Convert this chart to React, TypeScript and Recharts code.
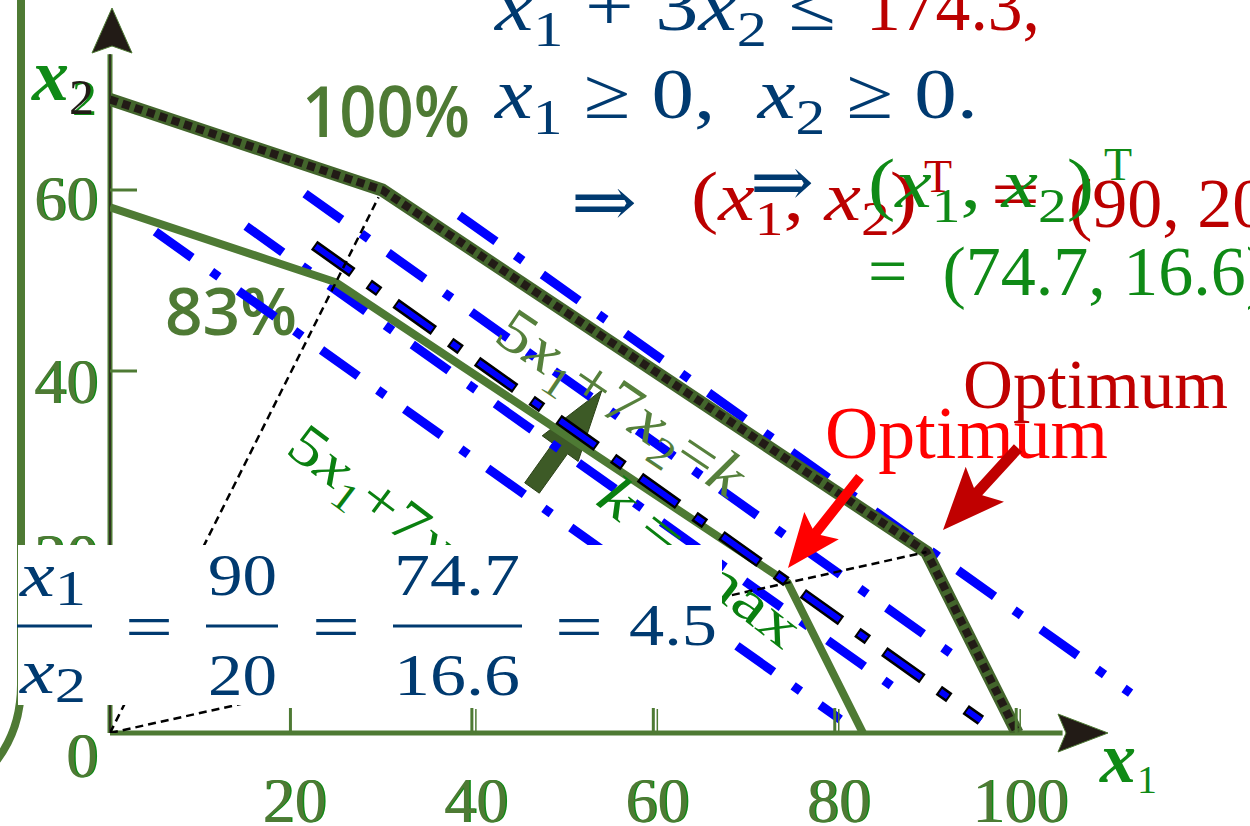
import React from 'react'
import { ComposedChart, Line, XAxis, YAxis, ReferenceLine } from 'recharts'

const xTicks = [20, 40, 60, 80, 100]
const yTicks = [0, 20, 40, 60]

// feasible region boundaries
const full = [
  { x: 0, y: 70 },
  { x: 30, y: 60 },
  { x: 90, y: 20 },
  { x: 100, y: 0 },
]
const reduced = [
  { x: 0, y: 58.1 },
  { x: 24.9, y: 49.8 },
  { x: 74.7, y: 16.6 },
  { x: 83, y: 0 },
]

// iso lines 5x1 + 7x2 = k (end points)
const iso1 = [{ x: 5, y: 55.4 }, { x: 80.5, y: 1.5 }]
const iso2 = [{ x: 15, y: 56.0 }, { x: 88, y: 3.9 }]
const iso3 = [{ x: 21.5, y: 59.6 }, { x: 94.5, y: 7.5 }]
const iso5 = [{ x: 38.5, y: 57.2 }, { x: 112.5, y: 4.4 }]
const isoOpt = [{ x: 22.5, y: 53.9 }, { x: 96, y: 1.4 }]

// rays from the origin
const rayA = [{ x: 0, y: 0 }, { x: 29.6, y: 59.2 }]
const rayB = [{ x: 0, y: 0 }, { x: 90, y: 20 }]

const OLIVE = '#4e7a34'
const GREEN = '#0f8a16'
const BLUE_T = '#003a70'
const RED_D = '#bb0000'
const RED = '#ff0000'
const SERIF = '"Liberation Serif", "DejaVu Serif", serif'

type Part = [string, string?]

function MathText({ x, y, size, fill, parts, len, rotate, subScale = 0.7, subShift = 0.22 }: any) {
  let cur = 0
  const kids = parts.map((p: Part, i: number) => {
    const [t, k = 'n'] = p
    const small = k === 'sub' || k === 'sup'
    const target = k === 'sub' ? size * subShift : k === 'sup' ? -size * 0.42 : 0
    const dy = target - cur
    cur = target
    return (
      <tspan key={i} dy={dy} fontSize={small ? size * subScale : size} fontStyle={k === 'i' ? 'italic' : 'normal'}>
        {t}
      </tspan>
    )
  })
  return (
    <text
      x={x}
      y={y}
      fill={fill}
      fontSize={size}
      fontFamily={SERIF}
      textLength={len}
      lengthAdjust={len ? 'spacingAndGlyphs' : undefined}
      transform={rotate ? `rotate(${rotate} ${x} ${y})` : undefined}
      style={{ whiteSpace: 'pre', fontFamily: SERIF }}
    >
      {kids}
    </text>
  )
}

function arrow(tx: number, ty: number, hx: number, hy: number, headLen: number, headHalf: number, shaftHalf: number, barb = 0) {
  const dx = hx - tx
  const dy = hy - ty
  const L = Math.hypot(dx, dy)
  const ux = dx / L
  const uy = dy / L
  const nx = -uy
  const ny = ux
  const bx = hx - ux * headLen
  const by = hy - uy * headLen
  const cx = bx - ux * barb
  const cy = by - uy * barb
  const pts = [
    [tx + nx * shaftHalf, ty + ny * shaftHalf],
    [bx + nx * shaftHalf, by + ny * shaftHalf],
    [cx + nx * headHalf, cy + ny * headHalf],
    [hx, hy],
    [cx - nx * headHalf, cy - ny * headHalf],
    [bx - nx * shaftHalf, by - ny * shaftHalf],
    [tx - nx * shaftHalf, ty - ny * shaftHalf],
  ]
  return pts.map((p) => p.map((v) => v.toFixed(1)).join(',')).join(' ')
}

const XTick = (props: any) => {
  const { x, y, payload } = props
  const v = payload.value
  return (
    <g>
      <line x1={x - 1} x2={x - 1} y1={y} y2={y - 25} stroke={OLIVE} strokeWidth={3} />
      {v !== 20 && <line x1={x + 3} x2={x + 3} y1={y} y2={y - 24} stroke={OLIVE} strokeWidth={1.5} />}
      <text x={x + 4.5} y={y + 89} textAnchor="middle" fontSize={64} style={{ fontFamily: SERIF }} fill={GREEN}>
        {v}
      </text>
      <text x={x + 3} y={y + 89} textAnchor="middle" fontSize={64} style={{ fontFamily: SERIF }} fill={OLIVE}>
        {v}
      </text>
    </g>
  )
}

const yLabelDrop: Record<number, number> = { 0: 44, 20: 26, 40: 32, 60: 30 }

const YTick = (props: any) => {
  const { x, y, payload } = props
  const v = payload.value
  return (
    <g>
      {v !== 0 && <line x1={x} x2={x + 27} y1={y} y2={y} stroke={OLIVE} strokeWidth={3} />}
      <text x={x - 10.5} y={y + yLabelDrop[v]} textAnchor="end" fontSize={64} style={{ fontFamily: SERIF }} fill={GREEN}>
        {v}
      </text>
      <text x={x - 12} y={y + yLabelDrop[v]} textAnchor="end" fontSize={64} style={{ fontFamily: SERIF }} fill={OLIVE}>
        {v}
      </text>
    </g>
  )
}

const layer: React.CSSProperties = { position: 'absolute', left: 0, top: 0 }

export default function App() {
  return (
    <div style={{ position: 'absolute', left: 0, top: 0, width: 1250, height: 826, overflow: 'hidden', background: '#fff' }}>
      {/* under layer */}
      <svg width={1250} height={826} style={layer}>
        <text x={302} y={137} style={{ fontFamily: '"Open Sans", sans-serif' }} fontWeight={600} fontSize={70} fill={OLIVE} textLength={168} lengthAdjust="spacingAndGlyphs">
          100%
        </text>
        <text x={165} y={335} style={{ fontFamily: '"Open Sans", sans-serif' }} fontWeight={600} fontSize={66} fill={OLIVE} textLength={132} lengthAdjust="spacingAndGlyphs">
          83%
        </text>
        <polygon points={arrow(532, 488, 602, 390, 72, 22, 9)} fill="#3d5a26" stroke="#2c4218" strokeWidth={1} />
      </svg>

      <div style={layer}>
        <ComposedChart width={1250} height={826} margin={{ top: 9, right: 6, left: 109, bottom: 92 }}>
          <XAxis
            type="number"
            dataKey="x"
            domain={[0, 125]}
            ticks={xTicks}
            interval={0}
            allowDataOverflow
            axisLine={false}
            tickLine={false}
            tickSize={0}
            tickMargin={0}
            height={1}
            tick={(p: any) => <XTick {...p} />}
          />
          <YAxis
            type="number"
            domain={[0, 80]}
            ticks={yTicks}
            interval={0}
            allowDataOverflow
            axisLine={false}
            tickLine={false}
            tickSize={0}
            tickMargin={0}
            width={1}
            tick={(p: any) => <YTick {...p} />}
          />
          <ReferenceLine segment={[{ x: 0, y: 0 }, { x: 105, y: 0 }]} stroke={OLIVE} strokeWidth={5} ifOverflow="visible" />
          <ReferenceLine segment={[{ x: 0, y: 0 }, { x: 0, y: 75 }]} stroke={OLIVE} strokeWidth={5} ifOverflow="visible" />
          <ReferenceLine segment={[{ x: 0, y: 0 }, { x: 0, y: 75 }]} stroke="#2f3322" strokeWidth={2} ifOverflow="visible" />

          {[iso1, iso2, iso3, iso5].map((d, i) => (
            <Line key={`iso${i}`} data={d} dataKey="y" type="linear" stroke="#0000ff" strokeWidth={9} strokeDasharray="45 24 9 24" dot={false} activeDot={false} isAnimationActive={false} />
          ))}

          <Line data={reduced} dataKey="y" type="linear" stroke={OLIVE} strokeWidth={8} dot={false} activeDot={false} isAnimationActive={false} />
          <Line data={full} dataKey="y" type="linear" stroke="#43652c" strokeWidth={13} dot={false} activeDot={false} isAnimationActive={false} />
          <Line data={full} dataKey="y" type="linear" stroke="#221b16" strokeWidth={8} strokeDasharray="8 5" dot={false} activeDot={false} isAnimationActive={false} />

          <Line data={isoOpt} dataKey="y" type="linear" stroke="#000000" strokeWidth={11} strokeDasharray="47 20 13 20" dot={false} activeDot={false} isAnimationActive={false} />
          <Line data={isoOpt} dataKey="y" type="linear" stroke="#0000ff" strokeWidth={6} strokeDasharray="43 24 9 24" strokeDashoffset={-2} dot={false} activeDot={false} isAnimationActive={false} />

          <Line data={rayA} dataKey="y" type="linear" stroke="#000" strokeWidth={2.5} strokeDasharray="8 5" dot={false} activeDot={false} isAnimationActive={false} />
          <Line data={rayB} dataKey="y" type="linear" stroke="#000" strokeWidth={2.5} strokeDasharray="8 5" dot={false} activeDot={false} isAnimationActive={false} />
        </ComposedChart>
      </div>

      {/* over layer */}
      <svg width={1250} height={826} style={layer}>
        <path d="M21 0 L21 685 Q21 728 -3 760" fill="none" stroke={OLIVE} strokeWidth={8} />

        {/* axis arrow heads and names */}
        <polygon points="112,8 132,53 112,46 92,53" fill="#221b16" stroke={OLIVE} strokeWidth={1} />
        <polygon points="1108,733 1058,714 1066,733 1058,752" fill="#221b16" stroke={OLIVE} strokeWidth={1} />
        <text x={32} y={100} fontSize={74} fontStyle="italic" fontWeight={700} style={{ fontFamily: SERIF }} fill={GREEN}>x</text>
        <text x={72} y={115} fontSize={50} style={{ fontFamily: SERIF }} fill={GREEN}>2</text>
        <text x={69} y={114} fontSize={50} style={{ fontFamily: SERIF }} fill="#221b16">2</text>
        <text x={1100} y={782} fontSize={72} fontStyle="italic" fontWeight={700} style={{ fontFamily: SERIF }} fill={GREEN}>x</text>
        <text x={1137} y={793} fontSize={40} style={{ fontFamily: SERIF }} fill={GREEN}>1</text>

        {/* model text */}
        <MathText x={495} y={30} size={72} fill={BLUE_T} len={341} parts={[['x', 'i'], ['1', 'sub'], [' + 3'], ['x', 'i'], ['2', 'sub'], [' ≤']]} />
        <MathText x={866} y={30} size={72} fill={RED_D} len={174} parts={[['174.3,']]} />
        <MathText x={495} y={118} size={72} fill={BLUE_T} len={483} parts={[['x', 'i'], ['1', 'sub'], [' ≥ 0,  '], ['x', 'i'], ['2', 'sub'], [' ≥ 0.']]} />

        <MathText x={571} y={226} size={70} fill={BLUE_T} len={66} parts={[['⇒']]} />
        <MathText x={691} y={220} size={70} fill={RED_D} len={226} parts={[['('], ['x', 'i'], ['1', 'sub'], [', '], ['x', 'i'], ['2', 'sub'], [')']]} />
        <MathText x={924} y={192} size={46} fill={RED_D} parts={[['T']]} />
        <MathText x={991} y={218} size={70} fill={RED_D} len={49} parts={[['=']]} />
        <MathText x={1069} y={227} size={70} fill={RED_D} parts={[['(90, 20)'], ['T', 'sup']]} />
        <MathText x={750} y={206} size={70} fill={BLUE_T} len={64} parts={[['⇒']]} />
        <MathText x={868} y={207} size={70} fill={GREEN} len={226} parts={[['('], ['x', 'i'], ['1', 'sub'], [', '], ['x', 'i'], ['2', 'sub'], [')']]} />
        <MathText x={1104} y={180} size={46} fill={GREEN} parts={[['T']]} />
        <MathText x={868} y={295} size={70} fill={GREEN} parts={[['=  (74.7, 16.6)'], ['T', 'sup']]} />

        {/* objective labels along the iso lines */}
        <MathText x={492} y={340} size={62} fill="#56803c" len={285} rotate={34} parts={[['5'], ['x', 'i'], ['1', 'sub'], ['+7'], ['x', 'i'], ['2', 'sub'], ['='], ['k', 'i']]} />
        <MathText x={284} y={452} size={58} fill="#0a8010" len={300} rotate={37} parts={[['5'], ['x', 'i'], ['1', 'sub'], ['+7'], ['x', 'i'], ['2', 'sub'], [' ='], ['k', 'i']]} />
        <MathText x={594} y={503} size={58} fill="#0a8010" len={240} rotate={38} parts={[['k', 'i'], [' = max']]} />

        {/* ratio box */}
        <rect x={18} y={545} width={704} height={160} fill="#fff" />
        <MathText x={20} y={596} size={64} fill={BLUE_T} len={66} subScale={0.8} subShift={0.14} parts={[['x', 'i'], ['1', 'sub']]} />
        <line x1={17} x2={92} y1={626} y2={626} stroke={BLUE_T} strokeWidth={3} />
        <MathText x={20} y={693} size={64} fill={BLUE_T} len={66} subScale={0.8} subShift={0.14} parts={[['x', 'i'], ['2', 'sub']]} />
        <MathText x={125} y={648} size={64} fill={BLUE_T} len={48} parts={[['=']]} />
        <MathText x={208} y={595} size={60} fill={BLUE_T} len={69} parts={[['90']]} />
        <line x1={206} x2={278} y1={626} y2={626} stroke={BLUE_T} strokeWidth={3} />
        <MathText x={208} y={695} size={60} fill={BLUE_T} len={69} parts={[['20']]} />
        <MathText x={312} y={648} size={64} fill={BLUE_T} len={48} parts={[['=']]} />
        <MathText x={394} y={595} size={60} fill={BLUE_T} len={126} parts={[['74.7']]} />
        <line x1={393} x2={522} y1={626} y2={626} stroke={BLUE_T} strokeWidth={3} />
        <MathText x={394} y={695} size={60} fill={BLUE_T} len={126} parts={[['16.6']]} />
        <MathText x={555} y={648} size={64} fill={BLUE_T} len={48} parts={[['=']]} />
        <MathText x={629} y={645} size={60} fill={BLUE_T} len={88} parts={[['4.5']]} />

        {/* optimum labels */}
        <text x={963} y={408} fontSize={70} style={{ fontFamily: SERIF }} fill="#c00000" textLength={265} lengthAdjust="spacingAndGlyphs">Optimum</text>
        <text x={825} y={458} fontSize={74} style={{ fontFamily: SERIF }} fill={RED} textLength={283} lengthAdjust="spacingAndGlyphs">Optimum</text>
        <polygon points={arrow(860, 477, 788, 568, 46, 22, 5, 8)} fill={RED} />
        <polygon points={arrow(1018, 448, 943, 530, 52, 26, 5.5, 10)} fill="#c00000" />
      </svg>
    </div>
  )
}
